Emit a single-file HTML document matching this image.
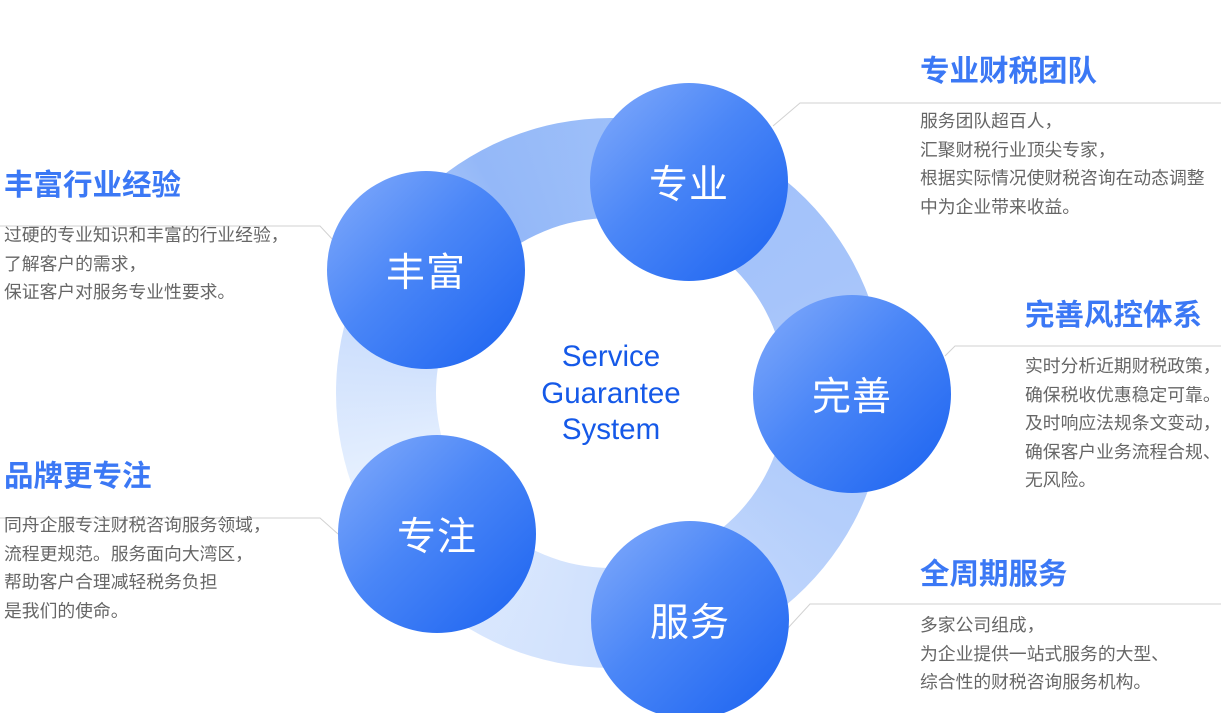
<!DOCTYPE html>
<html><head><meta charset="utf-8"><style>
html,body{margin:0;padding:0;background:#fff;width:1221px;height:713px;overflow:hidden;position:relative;font-family:"Liberation Sans","Noto Sans CJK SC",sans-serif}
.ring{position:absolute;left:336px;top:118px;width:550px;height:550px;border-radius:50%;
background:conic-gradient(from 0deg,#9dbff9 0deg,#a6c4fa 60deg,#b4cefb 120deg,#cfe0fd 180deg,#e6f0fe 250deg,#c0d6fc 300deg,#94b8f8 330deg,#9dbff9 360deg)}
.hole{position:absolute;left:436px;top:218px;width:350px;height:350px;border-radius:50%;background:#fff}
.c{position:absolute;width:198px;height:198px;border-radius:50%;background:linear-gradient(135deg,#84acfb 0%,#4a86f7 45%,#1a62f0 100%);color:#fff;font-size:39px;display:flex;align-items:center;justify-content:center;letter-spacing:1px}
.t{position:absolute;color:#3b78f5;font-size:29.5px;font-weight:bold;white-space:nowrap;line-height:34px}
.b{position:absolute;color:#666;font-size:17.8px;line-height:28.5px;white-space:nowrap}
.center{position:absolute;left:501px;top:339px;width:220px;text-align:center;color:#1559e8;font-size:29.5px;line-height:36.5px}
svg{position:absolute;left:0;top:0}
</style></head><body>
<div class="ring"></div><div class="hole"></div>
<svg width="1221" height="713"><g stroke="#d2d2d2" stroke-width="1" fill="none">
<polyline points="0,226 320,226 334,241"/>
<polyline points="1221,103 800,103 773,126"/>
<polyline points="1221,346 955,346 945,356"/>
<polyline points="0,518 320,518 338,534"/>
<polyline points="1221,604 810,604 788,628"/>
</g></svg>
<div class="center">Service<br>Guarantee<br>System</div>
<div class="c" style="left:327px;top:171px">丰富</div>
<div class="c" style="left:590px;top:83px">专业</div>
<div class="c" style="left:753px;top:295px">完善</div>
<div class="c" style="left:338px;top:435px">专注</div>
<div class="c" style="left:591px;top:521px">服务</div>

<div class="t" style="left:4px;top:169px">丰富行业经验</div>
<div class="b" style="left:4px;top:221px">过硬的专业知识和丰富的行业经验，<br>了解客户的需求，<br>保证客户对服务专业性要求。</div>

<div class="t" style="left:920px;top:55px">专业财税团队</div>
<div class="b" style="left:920px;top:107px">服务团队超百人，<br>汇聚财税行业顶尖专家，<br>根据实际情况使财税咨询在动态调整<br>中为企业带来收益。</div>

<div class="t" style="left:1025px;top:299px">完善风控体系</div>
<div class="b" style="left:1025px;top:352px">实时分析近期财税政策，<br>确保税收优惠稳定可靠。<br>及时响应法规条文变动，<br>确保客户业务流程合规、<br>无风险。</div>

<div class="t" style="left:4px;top:460px">品牌更专注</div>
<div class="b" style="left:4px;top:511px">同舟企服专注财税咨询服务领域，<br>流程更规范。服务面向大湾区，<br>帮助客户合理减轻税务负担<br>是我们的使命。</div>

<div class="t" style="left:920px;top:558px">全周期服务</div>
<div class="b" style="left:920px;top:611px">多家公司组成，<br>为企业提供一站式服务的大型、<br>综合性的财税咨询服务机构。</div>
</body></html>
